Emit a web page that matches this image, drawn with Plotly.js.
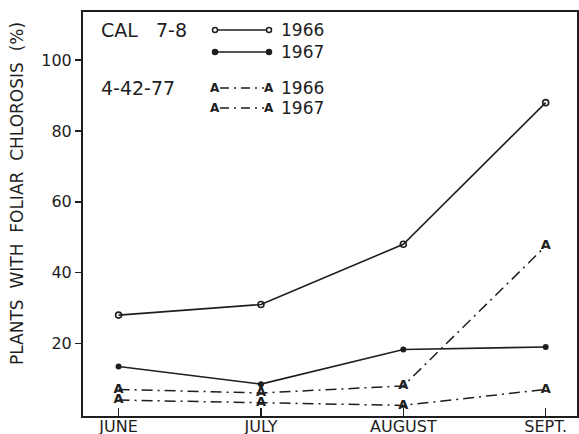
<!DOCTYPE html>
<html>
<head>
<meta charset="utf-8">
<script src="https://cdn.plot.ly/plotly-3.0.1.min.js"></script>
<style>html,body{margin:0;padding:0;background:#fff;}#chart{width:579px;height:434px;}</style>
</head>
<body>
<div id="chart"></div>
<script>
var months = ["JUNE", "JULY", "AUGUST", "SEPT."];
var cal1966 = [28, 31, 48, 88];
var cal1967 = [13.5, 8.5, 18.3, 19];
var l4_1966 = [7, 6, 8, 47.5];
var l4_1967 = [4, 3.2, 2.5, 7];
var yTicks = [20, 40, 60, 80, 100];
var yTickText = ["20", "40", "60", "80", "100"];

var ink = "#1e1e1e";
var FONT = "DejaVu Sans, Liberation Sans, sans-serif";
var xIdx = [0, 1, 2, 3];
var aDash = "11px,5px,2px,5px";

var traces = [
  {x: xIdx, y: cal1966, mode: "lines+markers", line: {color: ink, width: 1.6},
   marker: {symbol: "circle-open", size: 6, color: ink, line: {width: 1.6, color: ink}}},
  {x: xIdx, y: cal1967, mode: "lines+markers", line: {color: ink, width: 1.6},
   marker: {symbol: "circle", size: 6, color: ink}},
  {x: xIdx, y: l4_1966, mode: "lines+text", line: {color: ink, width: 1.5, dash: aDash},
   text: ["A","A","A","A"], textposition: "middle center",
   textfont: {family: "DejaVu Sans", size: 13, color: ink, weight: "bold"}},
  {x: xIdx, y: l4_1967, mode: "lines+text", line: {color: ink, width: 1.5, dash: aDash},
   text: ["A","A","A","A"], textposition: "middle center",
   textfont: {family: "DejaVu Sans", size: 13, color: ink, weight: "bold"}}
];

// legend geometry helpers (plot area: x 83..577, y 12..416)
function px(x){ return (x - 83) / 494; }
function py(y){ return (416 - y) / 404; }

var shapes = [];
var annotations = [];
function addText(txt, x, y, size){
  annotations.push({xref: "paper", yref: "paper", x: px(x), y: py(y), text: txt, showarrow: false,
    xanchor: "left", yanchor: "middle", font: {family: FONT, size: size || 17, color: ink}});
}
function circ(x, y, filled){
  shapes.push({type: "circle", xref: "paper", yref: "paper", xsizemode: "pixel", ysizemode: "pixel",
    xanchor: px(x), yanchor: py(y), x0: -2.5, x1: 2.5, y0: -2.5, y1: 2.5,
    line: {color: ink, width: 1.5}, fillcolor: filled ? ink : "#fff"});
}
function hline(x0, x1, y, dash){
  shapes.push({type: "line", xref: "paper", yref: "paper", x0: px(x0), x1: px(x1), y0: py(y), y1: py(y),
    line: {color: ink, width: 1.5, dash: dash || "solid"}});
}
function aMark(x, y){
  annotations.push({xref: "paper", yref: "paper", x: px(x), y: py(y), text: "<b>A</b>", showarrow: false,
    xanchor: "center", yanchor: "middle", font: {family: "DejaVu Sans", size: 12, color: ink}});
}

addText("CAL   7-8", 99, 30, 19);
addText("4-42-77", 99, 88, 19);
hline(215, 269, 30); circ(215, 30, false); circ(269, 30, false);
hline(215, 269, 52); circ(215, 52, true); circ(269, 52, true);
hline(220, 264, 88, "9px,5px,2px,5px"); aMark(215, 88); aMark(269, 88);
hline(220, 264, 108, "9px,5px,2px,5px"); aMark(215, 108); aMark(269, 108);
addText("1966", 279, 30); addText("1967", 279, 52);
addText("1966", 279, 88); addText("1967", 279, 108);

// rotated y-axis title
annotations.push({xref: "paper", yref: "paper", x: px(17), y: py(194), text: "PLANTS  WITH  FOLIAR  CHLOROSIS  (%)",
  textangle: -90, showarrow: false, xanchor: "center", yanchor: "middle",
  font: {family: FONT, size: 17, color: ink}});

var layout = {
  width: 579, height: 434,
  margin: {l: 83, r: 2, t: 12, b: 18},
  paper_bgcolor: "#fff", plot_bgcolor: "#fff",
  showlegend: false,
  xaxis: {
    range: [-0.25, 3.22], tickvals: xIdx, ticktext: months,
    ticks: "inside", ticklen: 8, tickwidth: 1.5, tickcolor: ink,
    showline: true, linecolor: ink, linewidth: 2, mirror: true,
    showgrid: false, zeroline: false, automargin: false,
    ticklabelstandoff: -5,
    tickfont: {family: FONT, size: 16, color: ink}
  },
  yaxis: {
    range: [-0.5, 113.6], tickvals: yTicks, ticktext: yTickText,
    ticks: "outside", ticklen: 6, tickwidth: 1.5, tickcolor: ink,
    showline: true, linecolor: ink, linewidth: 2, mirror: true,
    showgrid: false, zeroline: false, automargin: false,
    tickfont: {family: FONT, size: 16, color: ink}
  },
  shapes: shapes,
  annotations: annotations
};

Plotly.newPlot("chart", traces, layout, {displayModeBar: false, staticPlot: true});
</script>
</body>
</html>
